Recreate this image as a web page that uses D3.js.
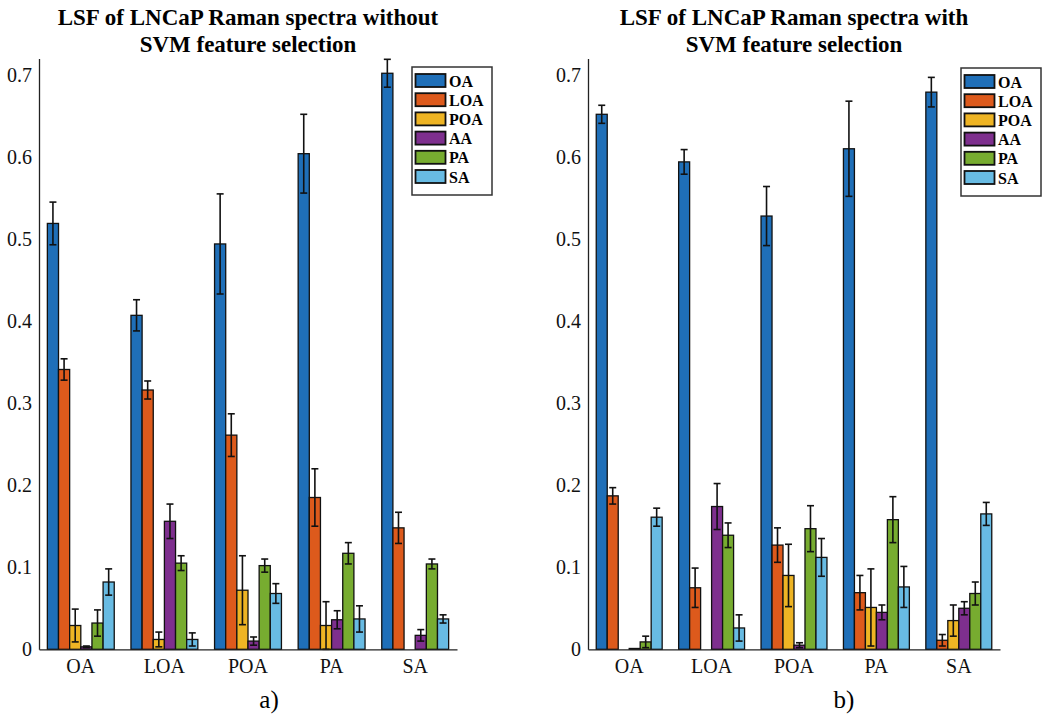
<!DOCTYPE html>
<html>
<head>
<meta charset="utf-8">
<style>
  body { margin: 0; background: #fff; }
</style>
<script src="https://d3js.org/d3.v7.min.js"></script>
</head>
<body>
<div id="viz"></div>
<script>

// groups on the x axis and the six bar series in each group
var categories = ['OA', 'LOA', 'POA', 'PA', 'SA'];
var series = ['OA', 'LOA', 'POA', 'AA', 'PA', 'SA'];
var seriesColors = ['#1f6fb8', '#dd5a1c', '#eeb424', '#7e2f8e', '#77ac30', '#68bbe3'];
var yTicks = [0, 0.1, 0.2, 0.3, 0.4, 0.5, 0.6, 0.7];

// a) without SVM feature selection  (rows = categories, cols = series)
var noSvmMean = [
  [0.519, 0.341, 0.029, 0.003, 0.032, 0.082],
  [0.407, 0.316, 0.012, 0.156, 0.105, 0.012],
  [0.494, 0.261, 0.072, 0.010, 0.102, 0.068],
  [0.604, 0.185, 0.029, 0.036, 0.117, 0.037],
  [0.702, 0.148, 0.000, 0.017, 0.104, 0.037]
];
var noSvmErr = [
  [0.026, 0.013, 0.020, 0.001, 0.016, 0.016],
  [0.019, 0.011, 0.009, 0.021, 0.009, 0.008],
  [0.061, 0.026, 0.042, 0.005, 0.008, 0.012],
  [0.048, 0.035, 0.029, 0.011, 0.013, 0.016],
  [0.017, 0.019, 0.000, 0.007, 0.006, 0.005]
];

// b) with SVM feature selection
var svmMean = [
  [0.652, 0.187, 0.000, 0.001, 0.009, 0.161],
  [0.594, 0.075, 0.000, 0.174, 0.139, 0.026],
  [0.528, 0.127, 0.090, 0.005, 0.147, 0.112],
  [0.610, 0.069, 0.051, 0.045, 0.158, 0.076],
  [0.679, 0.011, 0.035, 0.050, 0.068, 0.165]
];
var svmErr = [
  [0.011, 0.010, 0.000, 0.000, 0.007, 0.011],
  [0.015, 0.024, 0.000, 0.028, 0.015, 0.016],
  [0.036, 0.021, 0.038, 0.003, 0.028, 0.023],
  [0.058, 0.021, 0.047, 0.009, 0.028, 0.025],
  [0.018, 0.007, 0.019, 0.008, 0.014, 0.014]
];

var width = 1050, height = 723;
var FONT = '"Liberation Serif"';

var svg = d3.select('#viz').append('svg')
    .attr('width', width)
    .attr('height', height)
    .style('font-family', FONT);

svg.append('rect').attr('width', width).attr('height', height).attr('fill', '#fff');

var color = d3.scaleOrdinal().domain(series).range(seriesColors);

function drawPanel(opt) {
  var x = d3.scaleBand()
      .domain(categories)
      .range([opt.left, opt.right])
      .paddingInner(0.2)
      .paddingOuter(0.1);

  var xs = d3.scaleBand()
      .domain(series)
      .range([0, x.bandwidth()]);

  var y = d3.scaleLinear()
      .domain([0, 0.72])
      .range([649.3, 58.5]);

  var g = svg.append('g');

  // title, two lines
  var cx = (opt.left + opt.right) / 2;
  g.selectAll('text.title')
    .data(opt.title)
    .enter().append('text')
      .attr('class', 'title')
      .attr('x', cx)
      .attr('y', function(d, i) { return 25 + i * 27; })
      .attr('text-anchor', 'middle')
      .style('font-family', FONT)
      .style('font-size', '23px')
      .style('font-weight', 'bold')
      .text(function(d) { return d; });

  // bars
  var groups = g.selectAll('g.grp')
    .data(categories)
    .enter().append('g')
      .attr('class', 'grp')
      .attr('transform', function(d) { return 'translate(' + x(d) + ',0)'; });

  groups.each(function(cat, ci) {
    var rows = series.map(function(s, si) {
      return { s: s, m: opt.mean[ci][si], e: opt.err[ci][si] };
    });
    var sel = d3.select(this);

    sel.selectAll('rect')
      .data(rows.filter(function(d) { return d.m > 0; }))
      .enter().append('rect')
        .attr('x', function(d) { return xs(d.s); })
        .attr('y', function(d) { return y(d.m); })
        .attr('width', xs.bandwidth())
        .attr('height', function(d) { return y(0) - y(d.m); })
        .attr('fill', function(d) { return color(d.s); })
        .attr('stroke', '#111')
        .attr('stroke-width', 1.3);

    var eb = sel.selectAll('g.err')
      .data(rows.filter(function(d) { return d.e > 0; }))
      .enter().append('g')
        .attr('class', 'err')
        .attr('stroke', '#111')
        .attr('stroke-width', 1.6);

    eb.append('line')
      .attr('x1', function(d) { return xs(d.s) + xs.bandwidth() / 2; })
      .attr('x2', function(d) { return xs(d.s) + xs.bandwidth() / 2; })
      .attr('y1', function(d) { return y(Math.max(0, d.m - d.e)); })
      .attr('y2', function(d) { return y(d.m + d.e); });
    [1, -1].forEach(function(sign) {
      eb.append('line')
        .attr('x1', function(d) { return xs(d.s) + xs.bandwidth() / 2 - 3.5; })
        .attr('x2', function(d) { return xs(d.s) + xs.bandwidth() / 2 + 3.5; })
        .attr('y1', function(d) { return y(Math.max(0, d.m + sign * d.e)); })
        .attr('y2', function(d) { return y(Math.max(0, d.m + sign * d.e)); });
    });
  });

  // axes
  var yAxis = g.append('g')
      .attr('transform', 'translate(' + opt.left + ',0)')
      .call(d3.axisLeft(y).tickValues(yTicks).tickSize(0).tickPadding(7)
        .tickFormat(function(d) { return d === 0 ? '0' : d3.format('.1f')(d); }));
  var xAxis = g.append('g')
      .attr('transform', 'translate(0,' + y(0) + ')')
      .call(d3.axisBottom(x).tickSize(0).tickPadding(10));

  [yAxis, xAxis].forEach(function(a) {
    a.attr('font-family', null).attr('font-size', null);
    a.select('.domain').attr('stroke', '#222').attr('stroke-width', 1.3);
    a.selectAll('text')
      .style('font-family', FONT)
      .style('font-size', '20px')
      .attr('fill', '#111');
  });

  // panel label
  g.append('text')
    .attr('x', opt.labelX)
    .attr('y', 708)
    .attr('text-anchor', 'middle')
    .style('font-family', FONT)
    .style('font-size', '25px')
    .text(opt.label);

  // legend
  var lg = g.append('g').attr('transform', 'translate(' + opt.legX + ',' + opt.legY + ')');
  lg.append('rect')
    .attr('width', 80).attr('height', 128)
    .attr('fill', '#fff')
    .attr('stroke', '#333')
    .attr('stroke-width', 1.5);
  var items = lg.selectAll('g.item')
    .data(series)
    .enter().append('g')
      .attr('class', 'item')
      .attr('transform', function(d, i) { return 'translate(0,' + (13.5 + i * 19.2) + ')'; });
  items.append('rect')
    .attr('x', 3.5).attr('y', -6.5)
    .attr('width', 30).attr('height', 13)
    .attr('fill', function(d) { return color(d); })
    .attr('stroke', '#111')
    .attr('stroke-width', 1.8);
  items.append('text')
    .attr('x', 37).attr('y', 6)
    .style('font-family', FONT)
    .style('font-size', '16px')
    .style('font-weight', 'bold')
    .text(function(d) { return d; });
}

drawPanel({
  left: 39, right: 457,
  mean: noSvmMean, err: noSvmErr,
  title: ['LSF of LNCaP Raman spectra without', 'SVM feature selection'],
  label: 'a)', labelX: 269,
  legX: 412, legY: 67
});

drawPanel({
  left: 588, right: 1000,
  mean: svmMean, err: svmErr,
  title: ['LSF of LNCaP Raman spectra with', 'SVM feature selection'],
  label: 'b)', labelX: 844,
  legX: 961, legY: 68
});

</script>
</body>
</html>
